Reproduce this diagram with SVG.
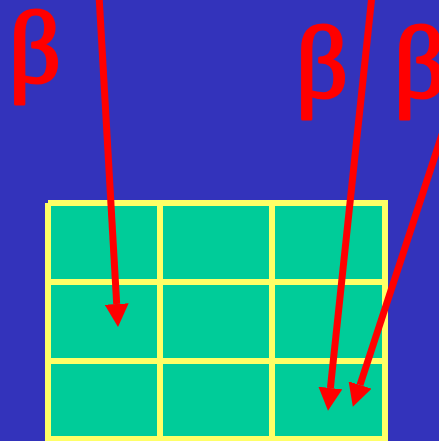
<svg xmlns="http://www.w3.org/2000/svg" width="439" height="441" viewBox="0 0 439 441">
<defs>
<style>
.grid{stroke:#ffff66;stroke-width:6;fill:none}
.cell{fill:#00cc99}
.conn{stroke:#ff0000;stroke-width:7;fill:none;marker-end:url(#head)}
.beta{font-family:"Liberation Serif","DejaVu Serif",serif;fill:#ff0000;stroke:#ff0000;stroke-width:3;stroke-linejoin:round;font-size:102px}
</style>
<marker id="head" markerUnits="userSpaceOnUse" markerWidth="24" markerHeight="24" refX="0" refY="12" orient="auto" viewBox="0 0 24 24">
<path d="M0,0 L23,12 L0,24 Z" fill="#ff0000"/>
</marker>
</defs>
<rect width="439" height="441" fill="#3333bb"/>
<g id="grid">
<rect class="cell" x="48" y="203" width="337" height="240"/>
<path class="grid" d="M48,203H385V445M48,203V445M160,203V445M272,203V445M48,282H385M48,361H385M48,439H385"/>
</g>
<g id="beta1"><text class="beta" x="9" y="82">β</text></g>
<g id="beta2"><text class="beta" x="296" y="97">β</text></g>
<g id="beta3"><text class="beta" x="394" y="97">β</text></g>
<g id="connectors">
<line class="conn" x1="99" y1="-5" x2="116.7" y2="304"/>
<line class="conn" x1="372" y1="-5" x2="330.4" y2="388"/>
<line class="conn" x1="452" y1="104" x2="360" y2="385"/>
</g>
</svg>
